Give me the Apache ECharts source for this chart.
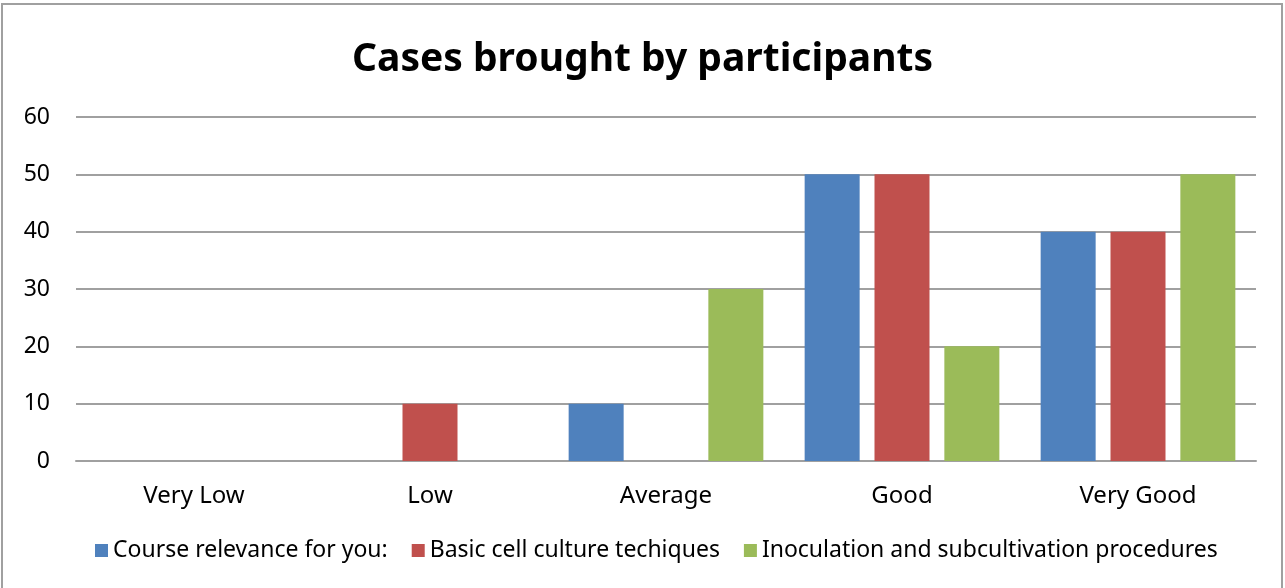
<!DOCTYPE html>
<html>
<head>
<meta charset="utf-8">
<script src="https://cdn.jsdelivr.net/npm/echarts@6/dist/echarts.min.js"></script>
<style>
  html, body { margin: 0; padding: 0; background: #fff; }
</style>
</head>
<body>
<div id="myChart" style="width:1285px;height:588px;"></div>
<script>
  // ratings on the x axis
  const categories = ['Very Low', 'Low', 'Average', 'Good', 'Very Good'];
  const seriesNames = [
    'Course relevance for you:',
    'Basic cell culture techiques',
    'Inoculation and subcultivation procedures'
  ];
  const courseRelevance = [0, 0, 10, 50, 40];
  const basicCellCulture = [0, 10, 0, 50, 40];
  const inoculation = [0, 0, 30, 20, 50];
  const colors = ['#4F81BD', '#C0504D', '#9BBB59'];

  let myChart = echarts.init(document.getElementById('myChart'));

  const font = '"Noto Sans", sans-serif';

  myChart.setOption({
    animation: false,
    color: colors,
    title: {
      text: 'Cases brought by participants',
      left: 'center',
      top: 35,
      textStyle: {
        fontFamily: font,
        fontWeight: 'bold',
        fontSize: 39,
        color: '#000'
      }
    },
    graphic: [{
      type: 'rect',
      shape: { x: 2, y: 4, width: 1280, height: 600 },
      style: { fill: 'none', stroke: '#a0a0a0', lineWidth: 2 }
    }],
    legend: {
      bottom: 21,
      left: 90,
      itemWidth: 13,
      itemHeight: 13,
      itemGap: 24,
      icon: 'rect',
      textStyle: { fontFamily: font, fontSize: 23, color: '#000' },
      data: seriesNames
    },
    grid: {
      left: 76,
      right: 29,
      top: 117,
      bottom: 127
    },
    xAxis: {
      type: 'category',
      data: categories,
      axisTick: { show: false },
      axisLine: { lineStyle: { color: '#a0a0a0', width: 2 } },
      axisLabel: {
        margin: 23,
        fontFamily: font,
        fontSize: 24,
        color: '#000'
      }
    },
    yAxis: {
      type: 'value',
      min: 0,
      max: 60,
      interval: 10,
      axisLine: { show: false },
      axisTick: { show: false },
      axisLabel: {
        margin: 26,
        fontFamily: font,
        fontSize: 23,
        color: '#000'
      },
      splitLine: { lineStyle: { color: '#a0a0a0', width: 2 } }
    },
    series: [
      { name: seriesNames[0], type: 'bar', data: courseRelevance, barWidth: 55, barGap: '27%' },
      { name: seriesNames[1], type: 'bar', data: basicCellCulture, barWidth: 55, barGap: '27%' },
      { name: seriesNames[2], type: 'bar', data: inoculation, barWidth: 55, barGap: '27%' }
    ]
  });
</script>
</body>
</html>
